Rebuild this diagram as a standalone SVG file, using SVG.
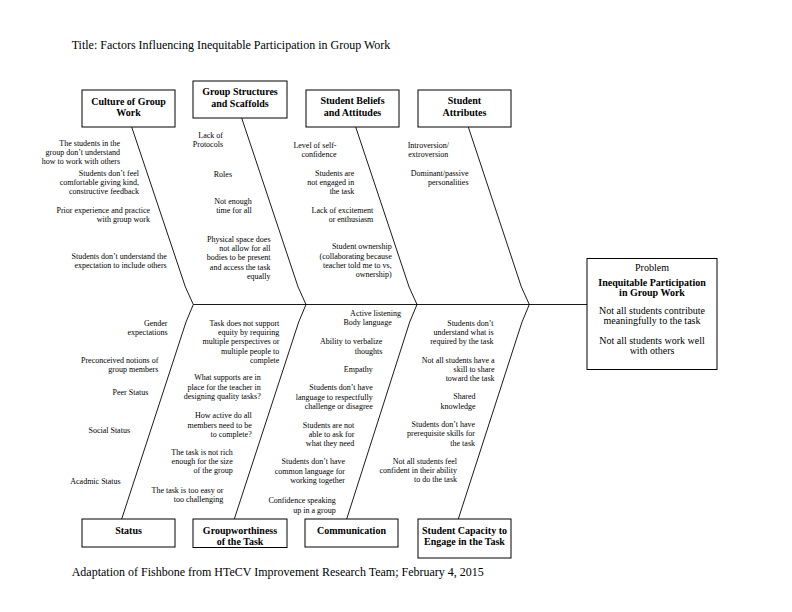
<svg xmlns="http://www.w3.org/2000/svg" width="792" height="612" viewBox="0 0 792 612">
<style>
  .bg{fill:#ffffff}
  .box{fill:#ffffff;stroke:#000000;stroke-width:1}
  .ln{fill:none;stroke:#000000;stroke-width:0.9}
  .hd{font-family:"Liberation Serif","Times New Roman",serif;font-size:10px;font-weight:bold;fill:#000000;text-anchor:middle}
  .pb{font-family:"Liberation Serif","Times New Roman",serif;font-size:10px;fill:#000000;text-anchor:middle}
  .sm{font-family:"Liberation Serif","Times New Roman",serif;font-size:8px;fill:#000000;text-anchor:end}
  .smc{font-family:"Liberation Serif","Times New Roman",serif;font-size:8px;fill:#000000;text-anchor:middle}
  .big{font-family:"Liberation Serif","Times New Roman",serif;font-size:12px;fill:#000000}
</style>
<rect class="bg" x="0" y="0" width="792" height="612"/>
<text class="big" x="71.7" y="48.5">Title: Factors Influencing Inequitable Participation in Group Work</text>
<text class="big" x="71.7" y="576">Adaptation of Fishbone from HTeCV Improvement Research Team; February 4, 2015</text>

<g id="connectors">
  <line class="ln" x1="193.3" y1="304.5" x2="587" y2="304.5"/>
  <polyline class="ln" points="131.7,127 185.4,287 193.3,304.5"/>
  <polyline class="ln" points="241.7,118 298.1,287 306,304.5"/>
  <polyline class="ln" points="355.7,127 409.1,287 417,304.5"/>
  <polyline class="ln" points="468.3,127 521.4,287 529.3,304.5"/>
  <polyline class="ln" points="193.3,304.5 186,322 121.7,519"/>
  <polyline class="ln" points="306,304.5 298.7,322 234.3,519"/>
  <polyline class="ln" points="417,304.5 409.7,322 346.7,519"/>
  <polyline class="ln" points="529.3,304.5 522,322 458.3,519"/>
</g>

<g id="culture">
  <rect class="box" x="82" y="90" width="93" height="37"/>
  <text class="hd" x="128.5" y="105.2">Culture of Group</text>
  <text class="hd" x="128.5" y="116.2">Work</text>
  <text class="sm" x="120" y="146">The students in the</text>
  <text class="sm" x="120" y="155.2">group don’t understand</text>
  <text class="sm" x="120" y="164.4">how to work with others</text>
  <text class="sm" x="139" y="176">Students don’t feel</text>
  <text class="sm" x="139" y="185.2">comfortable giving kind,</text>
  <text class="sm" x="139" y="194.4">constructive feedback</text>
  <text class="sm" x="150" y="212.7">Prior experience and practice</text>
  <text class="sm" x="150" y="221.9">with group work</text>
  <text class="sm" x="166.7" y="258.7">Students don’t understand the</text>
  <text class="sm" x="166.7" y="267.9">expectation to include others</text>
</g>

<g id="group-structures">
  <rect class="box" x="193" y="81" width="94" height="37"/>
  <text class="hd" x="240" y="95.2">Group Structures</text>
  <text class="hd" x="240" y="106.8">and Scaffolds</text>
  <text class="sm" x="223" y="137.7">Lack of</text>
  <text class="sm" x="223" y="146.7">Protocols</text>
  <text class="sm" x="232" y="176.7">Roles</text>
  <text class="sm" x="251.7" y="204.4">Not enough</text>
  <text class="sm" x="251.7" y="213.4">time for all</text>
  <text class="sm" x="270.5" y="242">Physical space does</text>
  <text class="sm" x="270.5" y="251.2">not allow for all</text>
  <text class="sm" x="270.5" y="260.4">bodies to be present</text>
  <text class="sm" x="270.5" y="269.6">and access the task</text>
  <text class="sm" x="270.5" y="278.8">equally</text>
</g>

<g id="student-beliefs">
  <rect class="box" x="306" y="90" width="93" height="37"/>
  <text class="hd" x="352.5" y="104.2">Student Beliefs</text>
  <text class="hd" x="352.5" y="115.8">and Attitudes</text>
  <text class="sm" x="336.5" y="148.4">Level of self-</text>
  <text class="sm" x="336.5" y="157.2">confidence</text>
  <text class="sm" x="354.3" y="176">Students are</text>
  <text class="sm" x="354.3" y="185">not engaged in</text>
  <text class="sm" x="354.3" y="193.9">the task</text>
  <text class="sm" x="373.3" y="212.7">Lack of excitement</text>
  <text class="sm" x="373.3" y="221.7">or enthusiasm</text>
  <text class="sm" x="391.7" y="249.4">Student ownership</text>
  <text class="sm" x="391.7" y="258.5">(collaborating because</text>
  <text class="sm" x="391.7" y="267.6">teacher told me to vs,</text>
  <text class="sm" x="391.7" y="276.7">ownership)</text>
</g>

<g id="student-attributes">
  <rect class="box" x="418" y="90" width="93" height="37"/>
  <text class="hd" x="464.5" y="104.2">Student</text>
  <text class="hd" x="464.5" y="115.8">Attributes</text>
  <text class="smc" x="428.3" y="147.7">Introversion/</text>
  <text class="smc" x="428.3" y="156.7">extroversion</text>
  <text class="sm" x="468.5" y="176">Dominant/passive</text>
  <text class="sm" x="468.5" y="185.2">personalities</text>
</g>

<g id="problem">
  <rect class="box" x="587" y="258.5" width="130" height="111"/>
  <text class="pb" x="652" y="270.8">Problem</text>
  <text class="hd" x="652" y="285.8">Inequitable Participation</text>
  <text class="hd" x="652" y="296.2">in Group Work</text>
  <text class="pb" x="652" y="313.5">Not all students contribute</text>
  <text class="pb" x="652" y="323.5">meaningfully to the task</text>
  <text class="pb" x="652" y="344.2">Not all students work well</text>
  <text class="pb" x="652" y="354.2">with others</text>
</g>

<g id="status">
  <rect class="box" x="82" y="519" width="93" height="28"/>
  <text class="hd" x="128.5" y="533.5">Status</text>
  <text class="sm" x="167.5" y="326">Gender</text>
  <text class="sm" x="167.5" y="335">expectations</text>
  <text class="sm" x="158.3" y="362.7">Preconceived notions of</text>
  <text class="sm" x="158.3" y="372">group members</text>
  <text class="sm" x="148.3" y="395">Peer Status</text>
  <text class="sm" x="130" y="432.7">Social Status</text>
  <text class="sm" x="120.7" y="483.7">Acadmic Status</text>
</g>

<g id="groupworthiness">
  <rect class="box" x="193" y="519" width="94" height="28.5"/>
  <text class="hd" x="240" y="533.5">Groupworthiness</text>
  <text class="hd" x="240" y="545">of the Task</text>
  <text class="sm" x="279.3" y="326">Task does not support</text>
  <text class="sm" x="279.3" y="335.2">equity by requiring</text>
  <text class="sm" x="279.3" y="344.4">multiple perspectives or</text>
  <text class="sm" x="279.3" y="353.6">multiple people to</text>
  <text class="sm" x="279.3" y="362.8">complete</text>
  <text class="sm" x="260.7" y="380.4">What supports are in</text>
  <text class="sm" x="260.7" y="389.6">place for the teacher in</text>
  <text class="sm" x="260.7" y="398.8">designing quality tasks?</text>
  <text class="sm" x="251.7" y="418.4">How active do all</text>
  <text class="sm" x="251.7" y="427.6">members need to be</text>
  <text class="sm" x="251.7" y="436.8">to complete?</text>
  <text class="sm" x="232.7" y="455">The task is not rich</text>
  <text class="sm" x="232.7" y="464.2">enough for the size</text>
  <text class="sm" x="232.7" y="473.4">of the group</text>
  <text class="sm" x="223.3" y="492.7">The task is too easy or</text>
  <text class="sm" x="223.3" y="501.8">too challenging</text>
</g>

<g id="communication">
  <rect class="box" x="305" y="519" width="93" height="28"/>
  <text class="hd" x="351.5" y="533.5">Communication</text>
  <text class="sm" x="401" y="316">Active listening</text>
  <text class="sm" x="391.7" y="325.4">Body language</text>
  <text class="sm" x="382.3" y="344.4">Ability to verbalize</text>
  <text class="sm" x="382.3" y="353.6">thoughts</text>
  <text class="sm" x="372.7" y="371.7">Empathy</text>
  <text class="sm" x="372.7" y="390.4">Students don’t have</text>
  <text class="sm" x="372.7" y="399.6">language to respectfully</text>
  <text class="sm" x="372.7" y="408.8">challenge or disagree</text>
  <text class="sm" x="354.3" y="427.7">Students are not</text>
  <text class="sm" x="354.3" y="436.8">able to ask for</text>
  <text class="sm" x="354.3" y="446">what they need</text>
  <text class="sm" x="345" y="464.4">Students don’t have</text>
  <text class="sm" x="345" y="473.5">common language for</text>
  <text class="sm" x="345" y="482.7">working together</text>
  <text class="sm" x="335.7" y="503.4">Confidence speaking</text>
  <text class="sm" x="335.7" y="512.6">up in a group</text>
</g>

<g id="student-capacity">
  <rect class="box" x="418" y="519" width="93" height="39"/>
  <text class="hd" x="464.5" y="533.5">Student Capacity to</text>
  <text class="hd" x="464.5" y="545">Engage in the Task</text>
  <text class="sm" x="493.5" y="326">Students don’t</text>
  <text class="sm" x="493.5" y="335.2">understand what is</text>
  <text class="sm" x="493.5" y="344.4">required by the task</text>
  <text class="sm" x="494.5" y="362.7">Not all students have a</text>
  <text class="sm" x="494.5" y="371.9">skill to share</text>
  <text class="sm" x="494.5" y="381.1">toward the task</text>
  <text class="sm" x="475.5" y="399.4">Shared</text>
  <text class="sm" x="475.5" y="408.6">knowledge</text>
  <text class="sm" x="475" y="427">Students don’t have</text>
  <text class="sm" x="475" y="436.4">prerequisite skills for</text>
  <text class="sm" x="475" y="445.8">the task</text>
  <text class="sm" x="457" y="463.7">Not all students feel</text>
  <text class="sm" x="457" y="472.9">confident in their ability</text>
  <text class="sm" x="457" y="482.1">to do the task</text>
</g>
</svg>
